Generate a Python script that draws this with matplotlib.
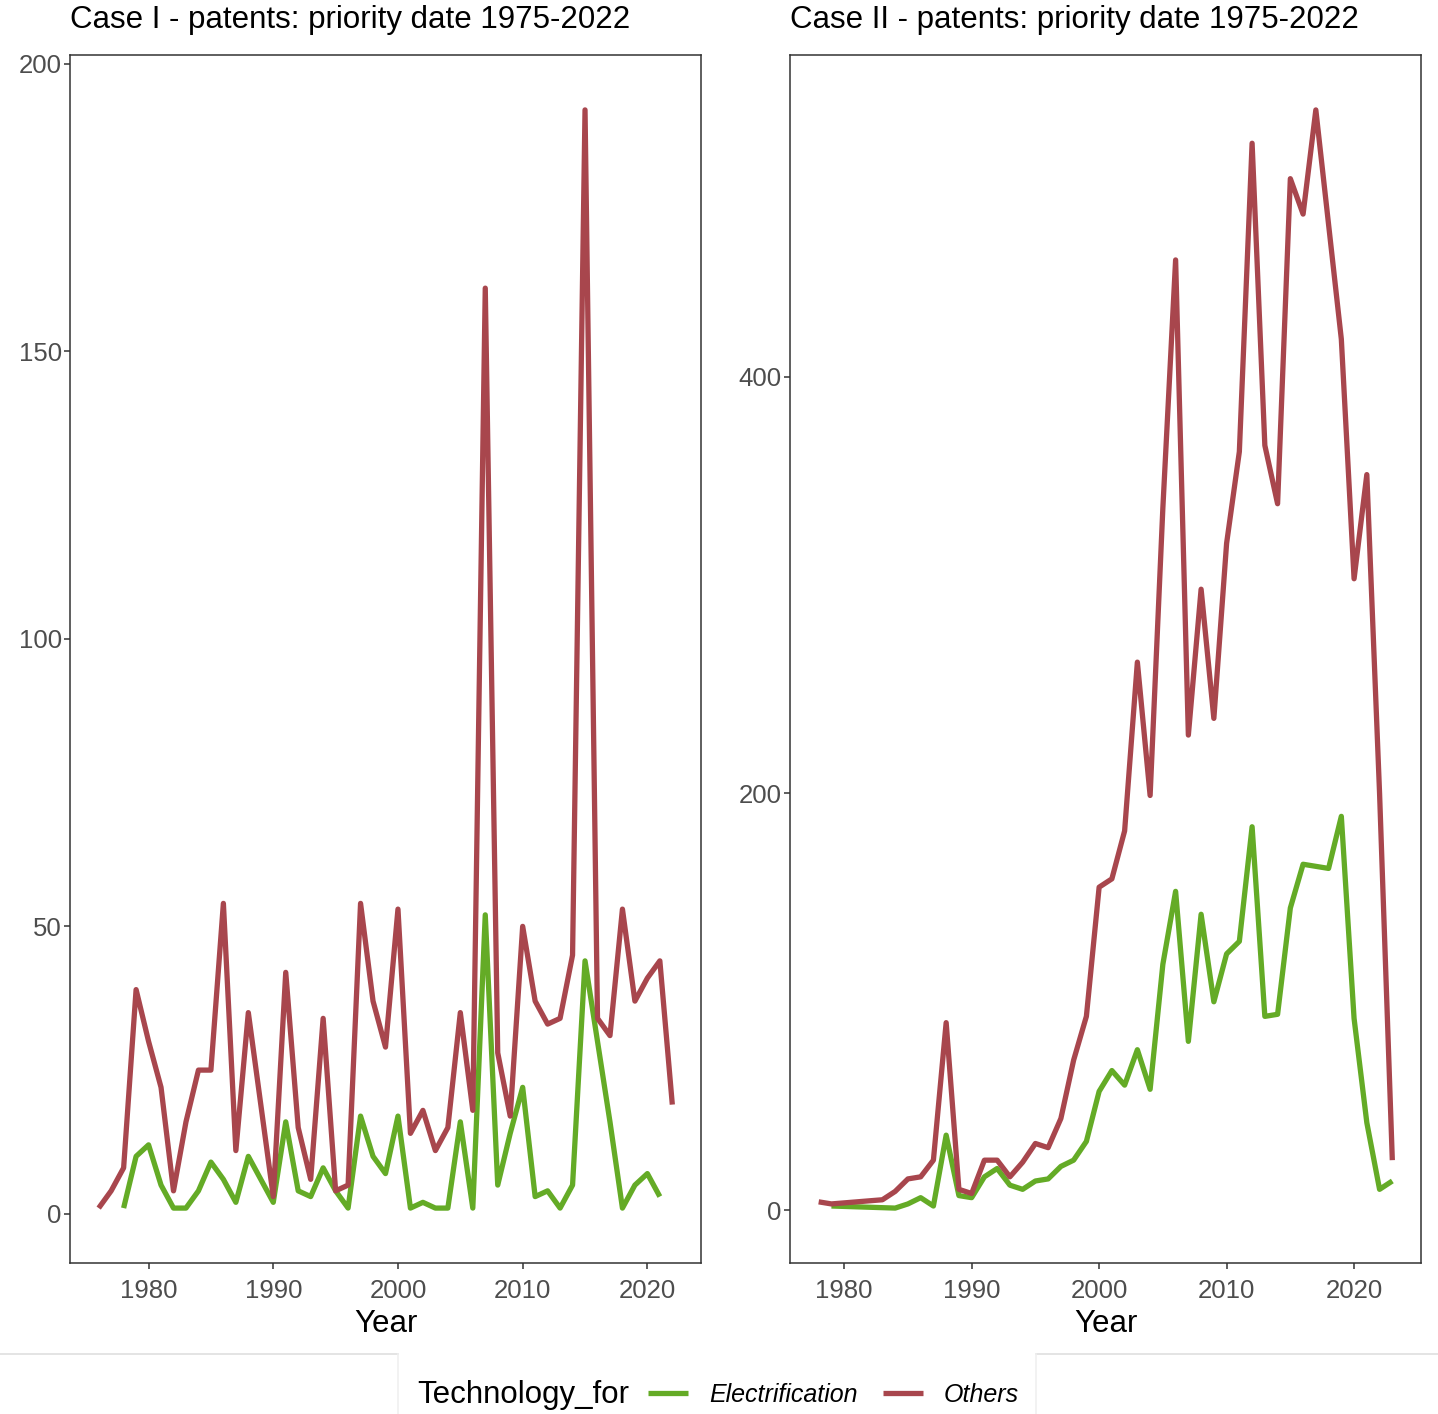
import matplotlib
matplotlib.use("Agg")
import matplotlib.pyplot as plt
from matplotlib.lines import Line2D
import numpy as np

plt.rcParams["font.family"] = ["Liberation Sans", "DejaVu Sans"]

# Case I - patents per priority year
years_I_others = list(range(1976, 2023))
others_I = [1, 4, 8, 39, 30, 22, 4, 16, 25, 25,
            54, 11, 35, 19, 3, 42, 15, 6, 34, 4,
            5, 54, 37, 29, 53, 14, 18, 11, 15, 35,
            18, 161, 28, 17, 50, 37, 33, 34, 45, 192,
            34, 31, 53, 37, 41, 44, 19]
years_I_elec = list(range(1978, 2022))
elec_I = [1, 10, 12, 5, 1, 1, 4, 9, 6, 2,
          10, 6, 2, 16, 4, 3, 8, 4, 1, 17,
          10, 7, 17, 1, 2, 1, 1, 16, 1, 52,
          5, 14, 22, 3, 4, 1, 5, 44, 30, 16,
          1, 5, 7, 3]

# Case II
years_II_others = [1978, 1979] + list(range(1983, 2024))
others_II = [4, 3, 5, 9, 15, 16, 24, 90, 10, 8,
             24, 24, 16, 23, 32, 30, 44, 72, 93, 155,
             159, 182, 263, 199, 337, 456, 228, 298, 236, 320,
             364, 512, 367, 339, 495, 478, 528, 473, 418, 303,
             353, 200, 24]
years_II_elec = [1979] + list(range(1984, 2024))
elec_II = [2, 1, 3, 6, 2, 36, 7, 6, 16, 20,
           12, 10, 14, 15, 21, 24, 33, 57, 67, 60,
           77, 58, 118, 153, 81, 142, 100, 123, 129, 184,
           93, 94, 145, 166, 165, 164, 189, 92, 42, 10,
           14]

titles = ["Case I - patents: priority date 1975-2022",
          "Case II - patents: priority date 1975-2022"]
yticks = [[0, 50, 100, 150, 200], [0, 200, 400]]
xticks = [1980, 1990, 2000, 2010, 2020]

green = "#64AB26"
red = "#A8464D"

W, H = 1438, 1414
fig = plt.figure(figsize=(W / 100, H / 100), dpi=100)


def px_axes(x0, y0, x1, y1):
    return fig.add_axes([x0 / W, 1 - y1 / H, (x1 - x0) / W, (y1 - y0) / H])


panels = [
    (px_axes(70, 55, 701, 1263), years_I_elec, elec_I, years_I_others, others_I),
    (px_axes(790, 55, 1421, 1263), years_II_elec, elec_II, years_II_others, others_II),
]

for i, (ax, ye, ve, yo, vo) in enumerate(panels):
    for xs, vs, c in [(ye, ve, green), (yo, vo, red)]:
        ax.plot(xs, vs, color=c, lw=3.8,
                solid_joinstyle="round", solid_capstyle="butt")

    allx = ye + yo
    ally = ve + vo
    xpad = 0.05 * (max(allx) - min(allx))
    ypad = 0.05 * (max(ally) - min(ally))
    ax.set_xlim(min(allx) - xpad, max(allx) + xpad)
    ax.set_ylim(min(ally) - ypad, max(ally) + ypad)

    ax.set_xticks(xticks)
    ax.set_yticks(yticks[i])
    ax.tick_params(length=4.5, width=1.1, color="#333333",
                   labelcolor="#4D4D4D", labelsize=18.5)
    ax.tick_params(axis="x", pad=7)
    ax.tick_params(axis="y", pad=1.5)
    for s in ax.spines.values():
        s.set_color("#333333")
        s.set_linewidth(1.1)

    ax.set_xlabel("Year", fontsize=22.5, labelpad=4)

    fig.text(ax.get_position().x0, 1 - 20 / H, titles[i],
             fontsize=22.5, ha="left", va="center")

# legend strip decoration
ly = 1 - 1354 / H
fig.add_artist(Line2D([0, 398 / W], [ly, ly], color="#DCDCDC", lw=1.1,
                      transform=fig.transFigure))
fig.add_artist(Line2D([1036 / W, 1], [ly, ly], color="#DCDCDC", lw=1.1,
                      transform=fig.transFigure))
for xv in [398, 1036]:
    fig.add_artist(Line2D([xv / W, xv / W], [0, ly], color="#EFEFEF", lw=1.1,
                          transform=fig.transFigure))

leg_y = 1 - 1395 / H
fig.text(417 / W, leg_y, "Technology_for", fontsize=22.5,
         ha="left", va="center")
handles = [Line2D([], [], color=green, lw=3.8, solid_capstyle="butt"),
           Line2D([], [], color=red, lw=3.8, solid_capstyle="butt")]
fig.legend(handles, ["Electrification", "Others"], ncol=2,
           loc="center left", bbox_to_anchor=(648 / W, leg_y),
           frameon=False, prop={"size": 18, "style": "italic"},
           handlelength=1.6, handletextpad=0.85, columnspacing=1.0,
           borderpad=0, borderaxespad=0)

fig.savefig("out.png", dpi=100)
